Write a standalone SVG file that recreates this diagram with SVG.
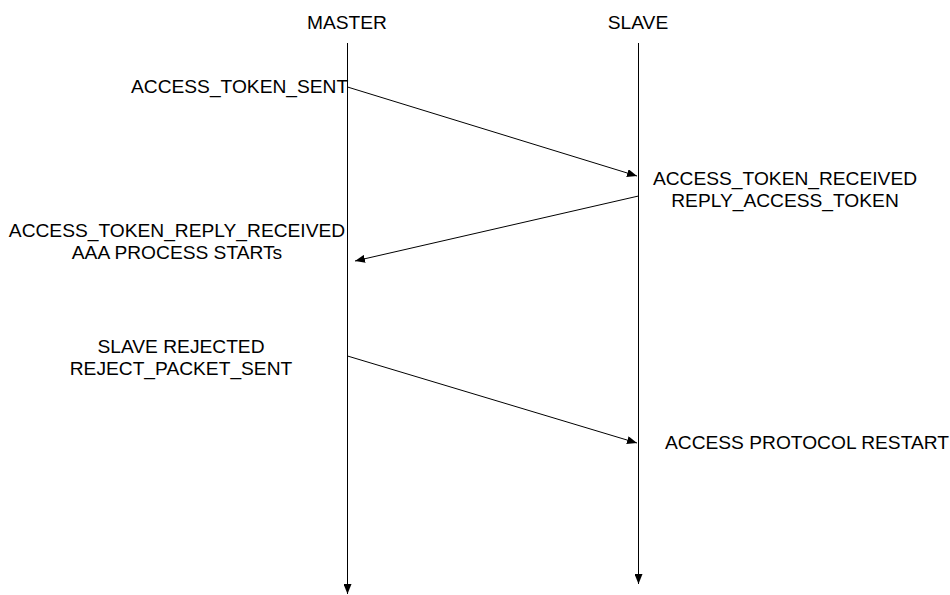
<svg xmlns="http://www.w3.org/2000/svg" width="950" height="595" viewBox="0 0 950 595">
  <style>
    text { font-family: "Liberation Sans", Arial, sans-serif; font-size: 19.2px; fill: #000; }
    .c { text-anchor: middle; }
    .line { stroke: #000; stroke-width: 1; fill: none; }
  </style>
  <defs>
    <marker id="arrow" viewBox="0 0 10 8" refX="10" refY="4" markerWidth="10" markerHeight="8" markerUnits="userSpaceOnUse" orient="auto">
      <path d="M0,0 L10,4 L0,8 Z" fill="#000"/>
    </marker>
  </defs>

  <rect width="950" height="595" fill="#fff"/>

  <!-- lifelines -->
  <g id="master">
    <text class="c" x="347" y="29">MASTER</text>
    <line class="line" x1="347.5" y1="43" x2="347.5" y2="594" marker-end="url(#arrow)"/>
  </g>
  <g id="slave">
    <text class="c" x="638" y="29">SLAVE</text>
    <line class="line" x1="638.5" y1="43" x2="638.5" y2="584" marker-end="url(#arrow)"/>
  </g>

  <!-- event labels -->
  <g id="label-sent">
    <text x="131" y="93">ACCESS_TOKEN_SENT</text>
  </g>
  <g id="label-received">
    <text class="c" x="785" y="185">ACCESS_TOKEN_RECEIVED</text>
    <text class="c" x="785" y="207">REPLY_ACCESS_TOKEN</text>
  </g>
  <g id="label-reply-received">
    <text class="c" x="177" y="237">ACCESS_TOKEN_REPLY_RECEIVED</text>
    <text class="c" x="177" y="259">AAA PROCESS STARTs</text>
  </g>
  <g id="label-rejected">
    <text class="c" x="181" y="353">SLAVE REJECTED</text>
    <text class="c" x="181" y="375">REJECT_PACKET_SENT</text>
  </g>
  <g id="label-restart">
    <text x="665" y="449">ACCESS PROTOCOL RESTART</text>
  </g>

  <!-- messages -->
  <g id="connectors">
    <line class="line" x1="347.5" y1="87" x2="637" y2="176" marker-end="url(#arrow)"/>
    <line class="line" x1="638.5" y1="196" x2="355" y2="261" marker-end="url(#arrow)"/>
    <line class="line" x1="347.5" y1="356" x2="637" y2="443" marker-end="url(#arrow)"/>
  </g>
</svg>
